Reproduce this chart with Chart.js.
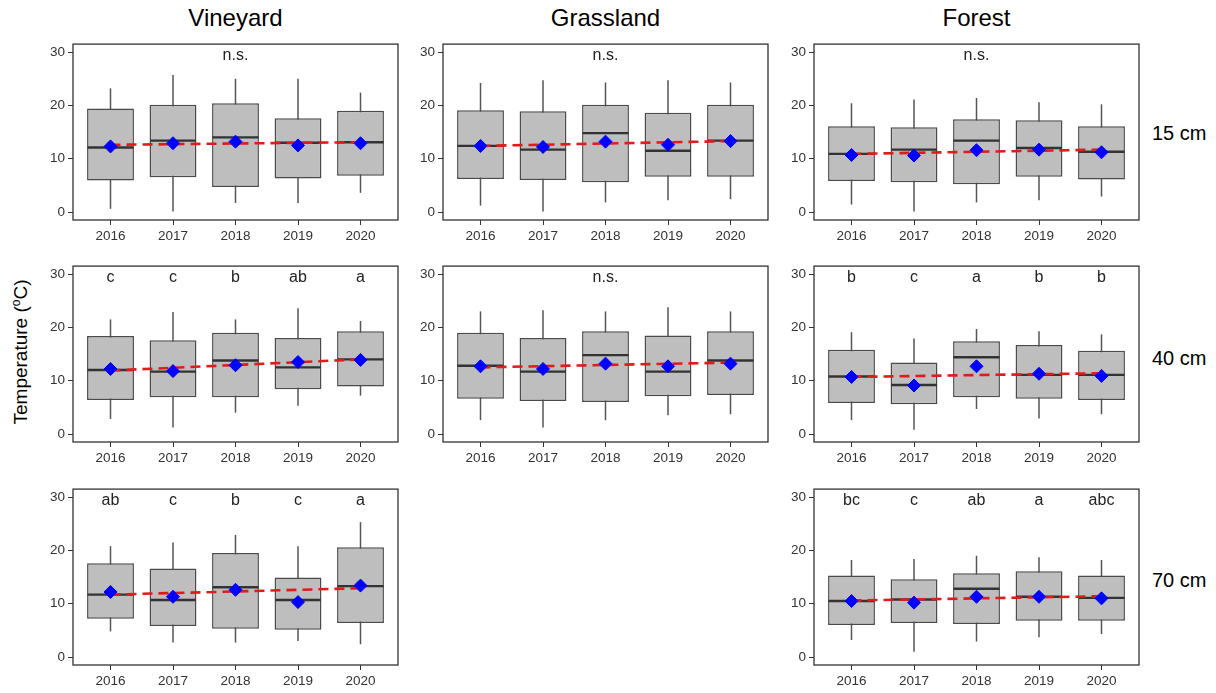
<!DOCTYPE html>
<html>
<head>
<meta charset="utf-8">
<script src="https://cdn.jsdelivr.net/npm/chart.js@4"></script>
<style>
  body { margin: 0; background: #fff; width: 1216px; height: 693px; position: relative; overflow: hidden;
         font-family: "Liberation Sans", Arial, sans-serif; }
  canvas { position: absolute; }
  .title { position: absolute; width: 325px; text-align: center; font-size: 24px; line-height: 24px; color: #000; }
  .depth { position: absolute; left: 1152px; font-size: 20px; line-height: 20px; color: #000; }
  #ytitle { position: absolute; left: -129px; top: 340px; width: 300px; height: 24px; line-height: 24px;
            text-align: center; font-size: 19px; transform: rotate(-90deg); }
  #ytitle sup { font-size: 12px; vertical-align: 7px; line-height: 0; }
</style>
</head>
<body>
<div class="title" style="left:73px;top:6px">Vineyard</div>
<div class="title" style="left:443px;top:6px">Grassland</div>
<div class="title" style="left:814px;top:6px">Forest</div>
<div class="depth" style="top:123px">15 cm</div>
<div class="depth" style="top:348px">40 cm</div>
<div class="depth" style="top:570px">70 cm</div>
<div id="ytitle">Temperature (<sup>o</sup>C)</div>

<canvas id="vine15"></canvas>
<canvas id="grass15"></canvas>
<canvas id="forest15"></canvas>
<canvas id="vine40"></canvas>
<canvas id="grass40"></canvas>
<canvas id="forest40"></canvas>
<canvas id="vine70"></canvas>
<canvas id="forest70"></canvas>

<script>
var years = ['2016', '2017', '2018', '2019', '2020'];
var yTicks = [0, 10, 20, 30];

// each row: [whisker low, q1, median, q3, whisker high, mean]
var vineyard15 = [
  [0.6, 5.9, 12.1, 19.4, 23.2, 12.3],
  [0.1, 6.5, 13.4, 20.1, 25.7, 12.9],
  [1.7, 4.7, 14.0, 20.4, 25.0, 13.2],
  [1.7, 6.3, 13.0, 17.6, 25.0, 12.5],
  [3.6, 6.8, 13.1, 19.0, 22.4, 12.9]
];
var grassland15 = [
  [1.2, 6.2, 12.4, 19.1, 24.2, 12.4],
  [0.1, 6.0, 11.7, 18.9, 24.7, 12.2],
  [1.8, 5.6, 14.8, 20.1, 24.3, 13.2],
  [2.2, 6.6, 11.5, 18.6, 24.7, 12.6],
  [2.4, 6.6, 13.4, 20.1, 24.3, 13.3]
];
var forest15 = [
  [1.4, 5.8, 10.9, 16.1, 20.4, 10.7],
  [0.1, 5.6, 11.7, 15.9, 21.1, 10.6],
  [1.8, 5.2, 13.4, 17.4, 21.4, 11.6],
  [2.2, 6.6, 12.0, 17.2, 20.6, 11.7],
  [2.9, 6.1, 11.3, 16.1, 20.2, 11.2]
];
var vineyard40 = [
  [2.8, 6.4, 12.0, 18.4, 21.5, 12.2],
  [1.2, 6.9, 11.7, 17.6, 22.9, 11.8],
  [4.0, 6.9, 13.8, 19.0, 21.5, 12.9],
  [5.3, 8.4, 12.5, 18.0, 23.6, 13.5],
  [7.2, 8.9, 14.0, 19.3, 21.2, 13.9]
];
var grassland40 = [
  [2.6, 6.6, 12.8, 19.0, 23.0, 12.7],
  [1.2, 6.2, 11.7, 18.0, 23.2, 12.2],
  [2.6, 6.0, 14.8, 19.3, 23.0, 13.2],
  [3.5, 7.1, 11.7, 18.5, 23.8, 12.7],
  [3.7, 7.3, 13.8, 19.3, 23.0, 13.2]
];
var forest40 = [
  [2.6, 5.8, 10.8, 15.8, 19.1, 10.7],
  [0.8, 5.6, 9.2, 13.4, 17.9, 9.1],
  [4.7, 6.9, 14.4, 17.4, 19.7, 12.7],
  [2.9, 6.6, 11.1, 16.7, 19.3, 11.3],
  [3.7, 6.4, 11.1, 15.6, 18.7, 10.9]
];
var vineyard70 = [
  [4.8, 7.2, 11.7, 17.6, 20.8, 12.2],
  [2.7, 5.8, 10.7, 16.6, 21.5, 11.3],
  [2.7, 5.3, 13.1, 19.5, 22.9, 12.6],
  [3.0, 5.1, 10.7, 14.9, 20.8, 10.3],
  [2.4, 6.4, 13.3, 20.6, 25.3, 13.4]
];
var forest70 = [
  [3.2, 6.0, 10.5, 15.3, 18.2, 10.5],
  [1.0, 6.4, 10.8, 14.6, 18.4, 10.2],
  [2.9, 6.2, 12.8, 15.7, 19.0, 11.3],
  [3.7, 6.8, 11.3, 16.1, 18.7, 11.3],
  [4.3, 6.8, 11.1, 15.3, 18.2, 11.0]
];

// dashed trend line, value at 2016 and at 2020
var vineyard15Trend = [12.6, 13.1];
var grassland15Trend = [12.4, 13.3];
var forest15Trend = [10.9, 11.7];
var vineyard40Trend = [11.9, 14.0];
var grassland40Trend = [12.5, 13.4];
var forest40Trend = [10.7, 11.4];
var vineyard70Trend = [11.7, 12.9];
var forest70Trend = [10.6, 11.4];

var vineyard15Letters = ['', '', 'n.s.', '', ''];
var grassland15Letters = ['', '', 'n.s.', '', ''];
var forest15Letters = ['', '', 'n.s.', '', ''];
var vineyard40Letters = ['c', 'c', 'b', 'ab', 'a'];
var grassland40Letters = ['', '', 'n.s.', '', ''];
var forest40Letters = ['b', 'c', 'a', 'b', 'b'];
var vineyard70Letters = ['ab', 'c', 'b', 'c', 'a'];
var forest70Letters = ['bc', 'c', 'ab', 'a', 'abc'];

var colLeft = [73, 443, 814];
var rowTop = [43, 265, 488];

var panels = [
  ['vine15', vineyard15, vineyard15Trend, vineyard15Letters, 0, 0],
  ['grass15', grassland15, grassland15Trend, grassland15Letters, 1, 0],
  ['forest15', forest15, forest15Trend, forest15Letters, 2, 0],
  ['vine40', vineyard40, vineyard40Trend, vineyard40Letters, 0, 1],
  ['grass40', grassland40, grassland40Trend, grassland40Letters, 1, 1],
  ['forest40', forest40, forest40Trend, forest40Letters, 2, 1],
  ['vine70', vineyard70, vineyard70Trend, vineyard70Letters, 0, 2],
  ['forest70', forest70, forest70Trend, forest70Letters, 2, 2]
];

var frameAndLetters = {
  id: 'frameAndLetters',
  afterDatasetsDraw: function(chart, args, opts) {
    var ctx = chart.ctx, a = chart.chartArea;
    ctx.save();
    ctx.strokeStyle = '#333';
    ctx.lineWidth = 1.3;
    ctx.strokeRect(a.left, a.top, a.right - a.left, a.bottom - a.top);
    ctx.fillStyle = '#222';
    ctx.font = '16px "Liberation Sans", Arial, sans-serif';
    ctx.textAlign = 'center';
    ctx.textBaseline = 'alphabetic';
    var yPix = chart.scales.y.getPixelForValue(28.5);
    opts.letters.forEach(function(t, i) {
      if (t) ctx.fillText(t, chart.scales.x.getPixelForValue(i), yPix);
    });
    ctx.restore();
  }
};

panels.forEach(function(p) {
  var canvas = document.getElementById(p[0]);
  var rows = p[1];
  canvas.width = 382;
  canvas.height = 217;
  canvas.style.left = (colLeft[p[4]] - 45) + 'px';
  canvas.style.top = (rowTop[p[5]] - 10) + 'px';

  var config = {
    type: 'bar',
    data: {
      datasets: [
        {
          label: 'whisker',
          data: rows.map((r, i) => ({x: i, y: [r[0], r[4]]})),
          backgroundColor: '#555',
          borderWidth: 0,
          maxBarThickness: 1.5,
          grouped: false,
          order: 5
        },
        {
          label: 'box',
          data: rows.map((r, i) => ({x: i, y: [r[1], r[3]]})),
          backgroundColor: '#bebebe',
          borderColor: '#4a4a4a',
          borderWidth: 1.5,
          borderSkipped: false,
          categoryPercentage: 1,
          barPercentage: 0.75,
          grouped: false,
          order: 4
        },
        {
          type: 'line',
          label: 'median',
          data: rows.map((r, i) => ({x: i, y: r[2]})),
          showLine: false,
          pointStyle: 'line',
          pointRadius: 23,
          pointBorderWidth: 2.4,
          pointBorderColor: '#333',
          order: 3
        },
        {
          type: 'line',
          label: 'trend',
          data: [{x: 0, y: p[2][0]}, {x: 4, y: p[2][1]}],
          borderColor: '#e01b1b',
          borderWidth: 2.6,
          borderDash: [10, 6],
          pointRadius: 0,
          order: 2
        },
        {
          type: 'line',
          label: 'mean',
          data: rows.map((r, i) => ({x: i, y: r[5]})),
          showLine: false,
          pointStyle: 'rectRot',
          pointRadius: 6.5,
          pointBackgroundColor: '#0000ff',
          pointBorderColor: '#0000ff',
          pointBorderWidth: 1,
          order: 1
        }
      ]
    },
    options: {
      responsive: false,
      animation: false,
      devicePixelRatio: 1,
      layout: { autoPadding: false, padding: { left: 0, top: 10, right: 12, bottom: 0 } },
      scales: {
        x: {
          type: 'linear',
          min: -0.6,
          max: 4.6,
          offset: false,
          afterBuildTicks: function(scale) { scale.ticks = years.map((y, i) => ({value: i})); },
          afterFit: function(scale) { scale.height = 30; },
          ticks: {
            callback: function(value, index) { return years[index]; },
            color: '#333',
            font: { size: 13.5, family: '"Liberation Sans", Arial, sans-serif' },
            padding: 3,
            maxRotation: 0
          },
          grid: { drawOnChartArea: false, offset: false, color: '#333', tickLength: 5 },
          border: { display: false }
        },
        y: {
          min: -1.5,
          max: 31.5,
          afterBuildTicks: function(scale) { scale.ticks = yTicks.map(v => ({value: v})); },
          afterFit: function(scale) { scale.width = 45; },
          ticks: {
            color: '#333',
            font: { size: 13.5, family: '"Liberation Sans", Arial, sans-serif' },
            padding: 3
          },
          grid: { drawOnChartArea: false, color: '#333', tickLength: 5 },
          border: { display: false }
        }
      },
      plugins: {
        legend: { display: false },
        tooltip: { enabled: false },
        frameAndLetters: { letters: p[3] }
      }
    },
    plugins: [frameAndLetters]
  };

  new Chart(canvas.getContext('2d'), config);
});
</script>
</body>
</html>
